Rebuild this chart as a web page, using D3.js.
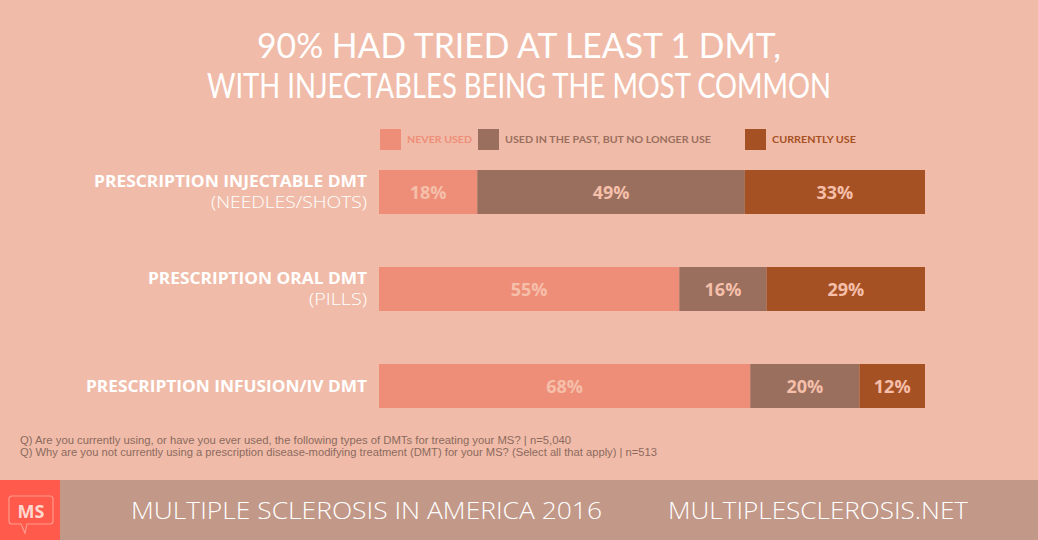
<!DOCTYPE html>
<html><head><meta charset="utf-8">
<script src="https://cdn.jsdelivr.net/npm/d3@7"></script>
<style>
html,body{margin:0;padding:0;background:#F0BCA9;}
svg{display:block;}
</style></head>
<body>
<script>
const categories = ["PRESCRIPTION INJECTABLE DMT", "PRESCRIPTION ORAL DMT", "PRESCRIPTION INFUSION/IV DMT"];
const subLabels = ["(NEEDLES/SHOTS)", "(PILLS)", ""];
const seriesNames = ["NEVER USED", "USED IN THE PAST, BUT NO LONGER USE", "CURRENTLY USE"];
const neverUsed = [18, 55, 68];
const pastUse = [49, 16, 20];
const currentUse = [33, 29, 12];
const colors = ["#EE8E78", "#9A6F5E", "#A65124"];
const titleLines = ["90% HAD TRIED AT LEAST 1 DMT,", "WITH INJECTABLES BEING THE MOST COMMON"];
const footnotes = [
  "Q) Are you currently using, or have you ever used, the following types of DMTs for treating your MS? | n=5,040",
  "Q) Why are you not currently using a prescription disease-modifying treatment (DMT) for your MS? (Select all that apply) | n=513"
];

const W = 1038, H = 540;
const svg = d3.select("body").append("svg").attr("width", W).attr("height", H);
svg.append("rect").attr("width", W).attr("height", H).attr("fill", "#F0BCA9");

// Title
svg.selectAll("text.title").data(titleLines).join("text")
  .attr("x", 519).attr("y", (d, i) => 58 + i * 40)
  .attr("text-anchor", "middle").attr("fill", "#fff")
  .attr("font-family", "Lato, sans-serif").attr("font-weight", 400)
  .attr("font-size", 34)
  .attr("textLength", (d, i) => i === 0 ? 524 : 624).attr("lengthAdjust", "spacingAndGlyphs")
  .text(d => d);

// Data table
const table = categories.map((c, i) => ({cat: c, v0: neverUsed[i], v1: pastUse[i], v2: currentUse[i]}));
const stack = d3.stack().keys(["v0", "v1", "v2"])(table);

const x = d3.scaleLinear().domain([0, 100]).range([379, 925]);
const y = d3.scaleBand().domain(categories).range([170, 408]).paddingInner(53 / 97).paddingOuter(0);

// Legend
const legX = [380, 478, 745];
const legW = [65, 206, 84];
const leg = svg.append("g");
seriesNames.forEach((s, i) => {
  leg.append("rect").attr("x", legX[i]).attr("y", 129).attr("width", 21).attr("height", 21).attr("fill", colors[i]);
  leg.append("text").attr("x", legX[i] + 27).attr("y", 143)
    .attr("fill", colors[i]).attr("font-family", "Lato, sans-serif").attr("font-weight", 700)
    .attr("font-size", 9.5).attr("textLength", legW[i]).attr("lengthAdjust", "spacingAndGlyphs").text(s);
});

// Bars
const layers = svg.selectAll("g.layer").data(stack).join("g").attr("fill", (d, i) => colors[i]);
layers.selectAll("rect").data(d => d).join("rect")
  .attr("x", d => x(d[0])).attr("width", d => x(d[1]) - x(d[0]))
  .attr("y", d => y(d.data.cat)).attr("height", y.bandwidth());

// Bar labels
const lab = svg.append("g");
stack.forEach(layer => {
  layer.forEach(d => {
    const v = d[1] - d[0];
    lab.append("text")
      .attr("x", (x(d[0]) + x(d[1])) / 2).attr("y", y(d.data.cat) + y.bandwidth() / 2 + 6.5)
      .attr("text-anchor", "middle").attr("fill", "#F5BFAA")
      .attr("font-family", "'Open Sans', sans-serif").attr("font-weight", 700)
      .attr("font-size", 18).text(v + "%");
  });
});

// Category labels
const catW = [273, 219, 281];
const subW = [156, 58, 0];
categories.forEach((c, i) => {
  const top = y(c);
  const hasSub = subLabels[i] !== "";
  svg.append("text").attr("x", 367).attr("y", hasSub ? top + 16.5 : top + 28)
    .attr("text-anchor", "end").attr("fill", "#fff")
    .attr("font-family", "'Open Sans', sans-serif").attr("font-weight", 700)
    .attr("font-size", 16).attr("textLength", catW[i]).attr("lengthAdjust", "spacingAndGlyphs").text(c);
  if (hasSub) {
    svg.append("text").attr("x", 367).attr("y", top + 37.5)
      .attr("text-anchor", "end").attr("fill", "#fff")
      .attr("font-family", "'Open Sans', sans-serif").attr("font-weight", 300)
      .attr("font-size", 16).attr("textLength", subW[i]).attr("lengthAdjust", "spacingAndGlyphs").text(subLabels[i]);
  }
});

// Footnotes
svg.selectAll("text.fn").data(footnotes).join("text")
  .attr("x", 20).attr("y", (d, i) => 444 + i * 11.5)
  .attr("fill", "#8C6A5E").attr("font-family", "'Liberation Sans Narrow', 'Liberation Sans', sans-serif")
  .attr("font-size", 10)
  .attr("textLength", (d, i) => i === 0 ? 551 : 637).attr("lengthAdjust", "spacingAndGlyphs")
  .text(d => d);

// Footer
svg.append("rect").attr("x", 0).attr("y", 480).attr("width", W).attr("height", 60).attr("fill", "#C29888");
svg.append("rect").attr("x", 0).attr("y", 480).attr("width", 60).attr("height", 60).attr("fill", "#FF5A4B");
// logo bubble
svg.append("path")
  .attr("d", "M12,496 Q9,496 9,499 L9,521 Q9,524 12,524 L21,524 L25,533 L27,524 L50,524 Q53,524 53,521 L53,499 Q53,496 50,496 Z")
  .attr("fill", "none").attr("stroke", "#FF9A8C").attr("stroke-width", 1.2);
svg.append("text").attr("x", 31).attr("y", 518).attr("text-anchor", "middle")
  .attr("fill", "#FFD8D0").attr("font-family", "'Open Sans', sans-serif").attr("font-weight", 700)
  .attr("font-size", 18).text("MS");

svg.append("text").attr("x", 131).attr("y", 519).attr("fill", "#fff")
  .attr("font-family", "'Open Sans', sans-serif").attr("font-weight", 300).attr("font-size", 23)
  .attr("textLength", 471).attr("lengthAdjust", "spacingAndGlyphs").text("MULTIPLE SCLEROSIS IN AMERICA 2016");
svg.append("text").attr("x", 668).attr("y", 519).attr("fill", "#fff")
  .attr("font-family", "'Open Sans', sans-serif").attr("font-weight", 300).attr("font-size", 23)
  .attr("textLength", 300).attr("lengthAdjust", "spacingAndGlyphs").text("MULTIPLESCLEROSIS.NET");
</script>
</body></html>
